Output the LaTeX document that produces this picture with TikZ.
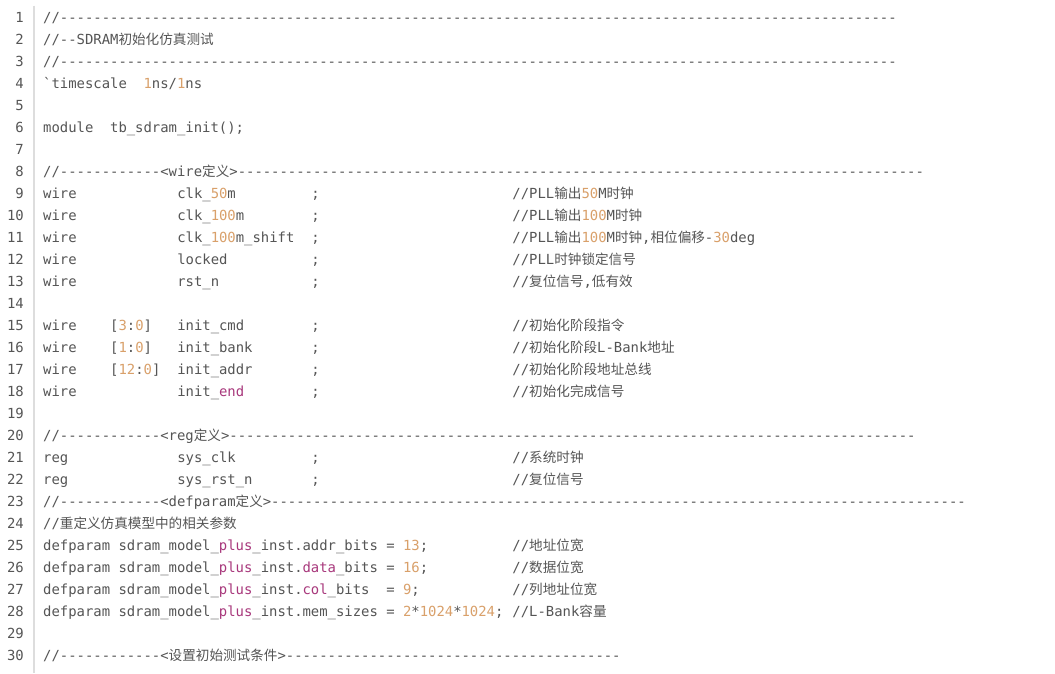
\documentclass[tikz,border=0pt]{standalone}
\usepackage{fontspec}
\newfontfamily\codefont{DejaVu Sans Mono}
\newfontfamily\zhfont{Noto Sans CJK SC}
\definecolor{codegray}{HTML}{555555}
\definecolor{numorange}{HTML}{D9A06A}
\definecolor{kwpurple}{HTML}{A8387C}
\definecolor{rulegray}{HTML}{DDDDDD}
\newcommand\zh[1]{{\zhfont\fontsize{13.6pt}{16pt}\selectfont #1}}
\newcommand\nm[1]{\textcolor{numorange}{#1}}
\newcommand\kw[1]{\textcolor{kwpurple}{#1}}
\newcommand\dashes[1]{\foreach\k in {1,...,#1}{-}}
\def\cw{8.38}
\tikzset{
  code/.style={anchor=base west, inner sep=0pt, text=codegray,
    font=\codefont\fontsize{13.9pt}{16pt}\selectfont},
  lnum/.style={anchor=base east, inner sep=0pt, text=codegray,
    font=\codefont\fontsize{13.9pt}{16pt}\selectfont}
}
\begin{document}
\begin{tikzpicture}[x=1pt, y=-22pt]
    \useasboundingbox[fill=white] (0,0) rectangle (1055,30.591);
    \draw[rulegray, line width=1.5pt] (34,0.25) -- (34,30.591);

    % line numbers
    \foreach \n in {1,...,30}
        \node[lnum] (n\n) at (24,\n) {\n};

    % header
    \node[code] (l1) at (43,1) {//\dashes{100}};
    \node[code] (l2) at (43,2) {//--SDRAM\zh{初始化仿真测试}};
    \node[code] (l3) at (43,3) {//\dashes{100}};
    \node[code] (l4) at (43,4) {`timescale\ \ \nm{1}ns/\nm{1}ns};
    \node[code] (l6) at (43,6) {module\ \ tb\_sdram\_init();};

    % wire
    \node[code] (l8) at (43,8) {//\dashes{12}<wire\zh{定义}>\dashes{82}};
    \foreach \n/\w/\s/\c in {9/{}/{clk\_\nm{50}m}/{//PLL\zh{输出}\nm{50}M\zh{时钟}},
        10/{}/{clk\_\nm{100}m}/{//PLL\zh{输出}\nm{100}M\zh{时钟}},
        11/{}/{clk\_\nm{100}m\_shift}/{//PLL\zh{输出}\nm{100}M\zh{时钟},\zh{相位偏移}-\nm{30}deg},
        12/{}/{locked}/{//PLL\zh{时钟锁定信号}},
        13/{}/{rst\_n}/{//\zh{复位信号},\zh{低有效}},
        15/{[\nm{3}:\nm{0}]}/{init\_cmd}/{//\zh{初始化阶段指令}},
        16/{[\nm{1}:\nm{0}]}/{init\_bank}/{//\zh{初始化阶段}L-Bank\zh{地址}},
        17/{[\nm{12}:\nm{0}]}/{init\_addr}/{//\zh{初始化阶段地址总线}},
        18/{}/{init\_\kw{end}}/{//\zh{初始化完成信号}}}{
        \node[code] (w\n) at (43,\n) {wire};
        \node[code] (r\n) at ({43+8*\cw},\n) {\w};
        \node[code] (s\n) at ({43+16*\cw},\n) {\s};
        \node[code] (e\n) at ({43+32*\cw},\n) {;};
        \node[code] (c\n) at ({43+56*\cw},\n) {\c};
    }

    % reg
    \node[code] (l20) at (43,20) {//\dashes{12}<reg\zh{定义}>\dashes{82}};
    \foreach \n/\s/\c in {21/{sys\_clk}/{//\zh{系统时钟}},
        22/{sys\_rst\_n}/{//\zh{复位信号}}}{
        \node[code] (w\n) at (43,\n) {reg};
        \node[code] (s\n) at ({43+16*\cw},\n) {\s};
        \node[code] (e\n) at ({43+32*\cw},\n) {;};
        \node[code] (c\n) at ({43+56*\cw},\n) {\c};
    }

    % defparam
    \node[code] (l23) at (43,23) {//\dashes{12}<defparam\zh{定义}>\dashes{83}};
    \node[code] (l24) at (43,24) {//\zh{重定义仿真模型中的相关参数}};
    \foreach \n/\p/\c in {25/{addr\_bits = \nm{13};}/{//\zh{地址位宽}},
        26/{\kw{data}\_bits = \nm{16};}/{//\zh{数据位宽}},
        27/{\kw{col}\_bits\ \ = \nm{9};}/{//\zh{列地址位宽}},
        28/{mem\_sizes = \nm{2}*\nm{1024}*\nm{1024};}/{//L-Bank\zh{容量}}}{
        \node[code] (d\n) at (43,\n) {defparam sdram\_model\_\kw{plus}\_inst.\p};
        \node[code] (c\n) at ({43+56*\cw},\n) {\c};
    }

    \node[code] (l30) at (43,30) {//\dashes{12}<\zh{设置初始测试条件}>\dashes{40}};
\end{tikzpicture}
\end{document}
